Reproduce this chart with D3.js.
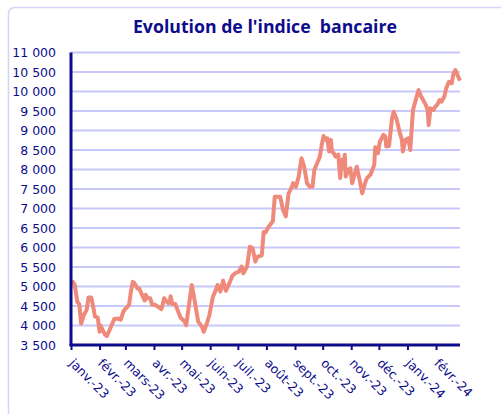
<!DOCTYPE html>
<html>
<head>
<meta charset="utf-8">
<script src="https://cdn.jsdelivr.net/npm/d3@7"></script>
<style>
  body { margin: 0; background: #fff; }
  svg { display: block; }
</style>
</head>
<body>
<svg id="chart" width="501" height="414"></svg>
<script>
(function () {

    // daily closes
    var dates = [
        "2023-01-02","2023-01-05","2023-01-07","2023-01-08","2023-01-10","2023-01-12","2023-01-15","2023-01-18",
        "2023-01-20","2023-01-23","2023-01-25","2023-01-27","2023-01-30","2023-02-01","2023-02-02","2023-02-04",
        "2023-02-07","2023-02-09","2023-02-13","2023-02-17","2023-02-21","2023-02-24","2023-02-27","2023-03-02",
        "2023-03-05","2023-03-07","2023-03-09","2023-03-11","2023-03-14","2023-03-16","2023-03-19","2023-03-22",
        "2023-03-23","2023-03-25","2023-03-28","2023-03-30","2023-04-02","2023-04-05","2023-04-09","2023-04-10",
        "2023-04-12","2023-04-14","2023-04-16","2023-04-18","2023-04-19","2023-04-21","2023-04-24","2023-04-27",
        "2023-04-30","2023-05-04","2023-05-06","2023-05-12","2023-05-15","2023-05-19","2023-05-23","2023-05-25",
        "2023-05-28","2023-05-31","2023-06-02","2023-06-04","2023-06-07","2023-06-09","2023-06-12","2023-06-15",
        "2023-06-18","2023-06-21","2023-06-25","2023-06-28","2023-07-02","2023-07-05","2023-07-07","2023-07-11",
        "2023-07-14","2023-07-17","2023-07-20","2023-07-22","2023-07-27","2023-07-29","2023-07-31","2023-08-03",
        "2023-08-05","2023-08-08","2023-08-10","2023-08-14","2023-08-16","2023-08-19","2023-08-22","2023-08-25",
        "2023-08-28","2023-08-30","2023-09-02","2023-09-05","2023-09-08","2023-09-11","2023-09-14","2023-09-17",
        "2023-09-20","2023-09-22","2023-09-25","2023-09-28","2023-09-30","2023-10-02","2023-10-05","2023-10-06",
        "2023-10-08","2023-10-10","2023-10-11","2023-10-13","2023-10-15","2023-10-18","2023-10-20","2023-10-22",
        "2023-10-23","2023-10-25","2023-10-26","2023-10-29","2023-10-31","2023-11-02","2023-11-04","2023-11-07",
        "2023-11-10","2023-11-13","2023-11-16","2023-11-18","2023-11-22","2023-11-26","2023-11-27","2023-11-30",
        "2023-12-02","2023-12-06","2023-12-08","2023-12-09","2023-12-12","2023-12-15","2023-12-17","2023-12-20",
        "2023-12-23","2023-12-26","2023-12-27","2023-12-30","2024-01-02","2024-01-04","2024-01-05","2024-01-07",
        "2024-01-10","2024-01-13","2024-01-15","2024-01-18","2024-01-21","2024-01-23","2024-01-24","2024-01-26",
        "2024-01-29","2024-01-31","2024-02-02","2024-02-05","2024-02-07","2024-02-10","2024-02-12","2024-02-15",
        "2024-02-18","2024-02-20","2024-02-22","2024-02-25","2024-02-27"
    ];
    var values = [
        5150, 5050, 4740, 4600, 4550, 4050, 4270, 4400,
        4720, 4720, 4490, 4230, 4200, 3840, 4000, 3900,
        3760, 3730, 3950, 4170, 4180, 4150, 4370, 4450,
        4530, 4870, 5120, 5080, 4950, 4950, 4790, 4640,
        4790, 4700, 4700, 4530, 4530, 4490, 4420, 4490,
        4700, 4640, 4580, 4580, 4750, 4550, 4550, 4370,
        4200, 4110, 4010, 5040, 4660, 4100, 3970, 3840,
        4030, 4250, 4500, 4740, 4900, 5040, 4870, 5150,
        4890, 5040, 5270, 5340, 5380, 5510, 5340, 5510,
        6020, 5980, 5640, 5760, 5800, 6400, 6380, 6520,
        6580, 6680, 7300, 7300, 7300, 6960, 6800, 7380,
        7520, 7650, 7560, 7820, 8290, 8070, 7650, 7560,
        7560, 7990, 8160, 8330, 8630, 8860, 8750, 8800,
        8460, 8760, 8460, 8420, 8330, 8380, 7780, 8250,
        8030, 8380, 7820, 7990, 8030, 7650, 7820, 8070,
        7740, 7390, 7650, 7780, 7870, 8120, 8570, 8420,
        8710, 8890, 8840, 8590, 8600, 9270, 9480, 9310,
        9010, 8750, 8460, 8760, 8800, 8500, 8840, 9530,
        9780, 10040, 9910, 9780, 9650, 9520, 9140, 9570,
        9520, 9610, 9650, 9780, 9740, 9870, 10080, 10250,
        10210, 10470, 10550, 10380, 10280
    ];
    var monthTicks = [
        "2023-01-01","2023-02-01","2023-03-01","2023-04-01","2023-05-01","2023-06-01","2023-07-01",
        "2023-08-01","2023-09-01","2023-10-01","2023-11-01","2023-12-01","2024-01-01","2024-02-01"
    ];
    var monthLabels = [
        "janv.-23","févr.-23","mars-23","avr.-23","mai-23","juin-23","juil.-23",
        "août-23","sept.-23","oct.-23","nov.-23","déc.-23","janv.-24","févr.-24"
    ];
    var yTicks = d3.range(3500, 11001, 500);

    var navy = "#0c0c8c",
        grid = "#c8c8fa",
        salmon = "#ef8a7b",
        parse = d3.utcParse("%Y-%m-%d"),
        fr = d3.formatLocale({ decimal: ",", thousands: "\u00a0", grouping: [3], currency: ["", " €"] }),
        fmt = fr.format(",d");

    var svg = d3.select("#chart"),
        left = 71, right = 460, top = 52.5, bottom = 345;

    var x = d3.scaleUtc()
        .domain([parse("2023-01-01"), parse("2024-02-27")])
        .range([left, right]);

    var y = d3.scaleLinear()
        .domain([3500, 11000])
        .range([bottom, top]);

    var points = dates.map(function (d, i) { return [parse(d), values[i]]; });

    // frame
    svg.append("rect")
        .attr("x", 8.5).attr("y", 7.5)
        .attr("width", 520).attr("height", 430)
        .attr("rx", 6)
        .attr("fill", "none")
        .attr("stroke", "#d4d4f6")
        .attr("stroke-width", 1.5);

    svg.append("text")
        .attr("x", 265).attr("y", 33)
        .attr("text-anchor", "middle")
        .style("white-space", "pre")
        .style("font-family", "'Open Sans', Lato, sans-serif")
        .style("font-weight", "bold")
        .style("font-size", "17.7px")
        .attr("fill", navy)
        .text("Evolution de l'indice  bancaire");

    // gridlines
    svg.append("g")
        .selectAll("line")
        .data(yTicks)
        .join("line")
            .attr("x1", left).attr("x2", right)
            .attr("y1", function (d) { return y(d); })
            .attr("y2", function (d) { return y(d); })
            .attr("stroke", grid)
            .attr("stroke-width", 2);

    // y axis
    var yAxis = svg.append("g")
        .attr("transform", "translate(" + left + ",0)")
        .call(d3.axisLeft(y).tickValues(yTicks).tickSize(0).tickPadding(15).tickFormat(fmt));
    yAxis.select(".domain").remove();
    yAxis.selectAll("text")
        .style("font-family", "'DejaVu Sans', Verdana, sans-serif")
        .style("font-size", "12.5px")
        .attr("fill", navy);

    // x axis
    var xAxis = svg.append("g")
        .attr("transform", "translate(0," + bottom + ")")
        .call(d3.axisBottom(x)
            .tickValues(monthTicks.map(parse))
            .tickSize(5)
            .tickSizeOuter(0)
            .tickFormat(function (d, i) { return monthLabels[i]; }));
    xAxis.select(".domain").remove();
    xAxis.selectAll(".tick line").attr("stroke", navy).attr("stroke-width", 2);
    xAxis.selectAll("text")
        .attr("y", 0).attr("dy", 0)
        .attr("text-anchor", "start")
        .attr("transform", "translate(-3,19) rotate(45)")
        .style("font-family", "'DejaVu Sans', Verdana, sans-serif")
        .style("font-size", "12.5px")
        .attr("fill", navy);

    // the data line
    svg.append("path")
        .datum(points)
        .attr("fill", "none")
        .attr("stroke", salmon)
        .attr("stroke-width", 4)
        .attr("stroke-linejoin", "round")
        .attr("d", d3.line()
            .x(function (d) { return x(d[0]); })
            .y(function (d) { return y(d[1]); }));

    // axis lines on top
    svg.append("line")
        .attr("x1", left).attr("x2", left)
        .attr("y1", top).attr("y2", bottom + 1)
        .attr("stroke", navy).attr("stroke-width", 3);
    svg.append("line")
        .attr("x1", left - 1.5).attr("x2", right)
        .attr("y1", bottom).attr("y2", bottom)
        .attr("stroke", navy).attr("stroke-width", 3);

}());
</script>
</body>
</html>
